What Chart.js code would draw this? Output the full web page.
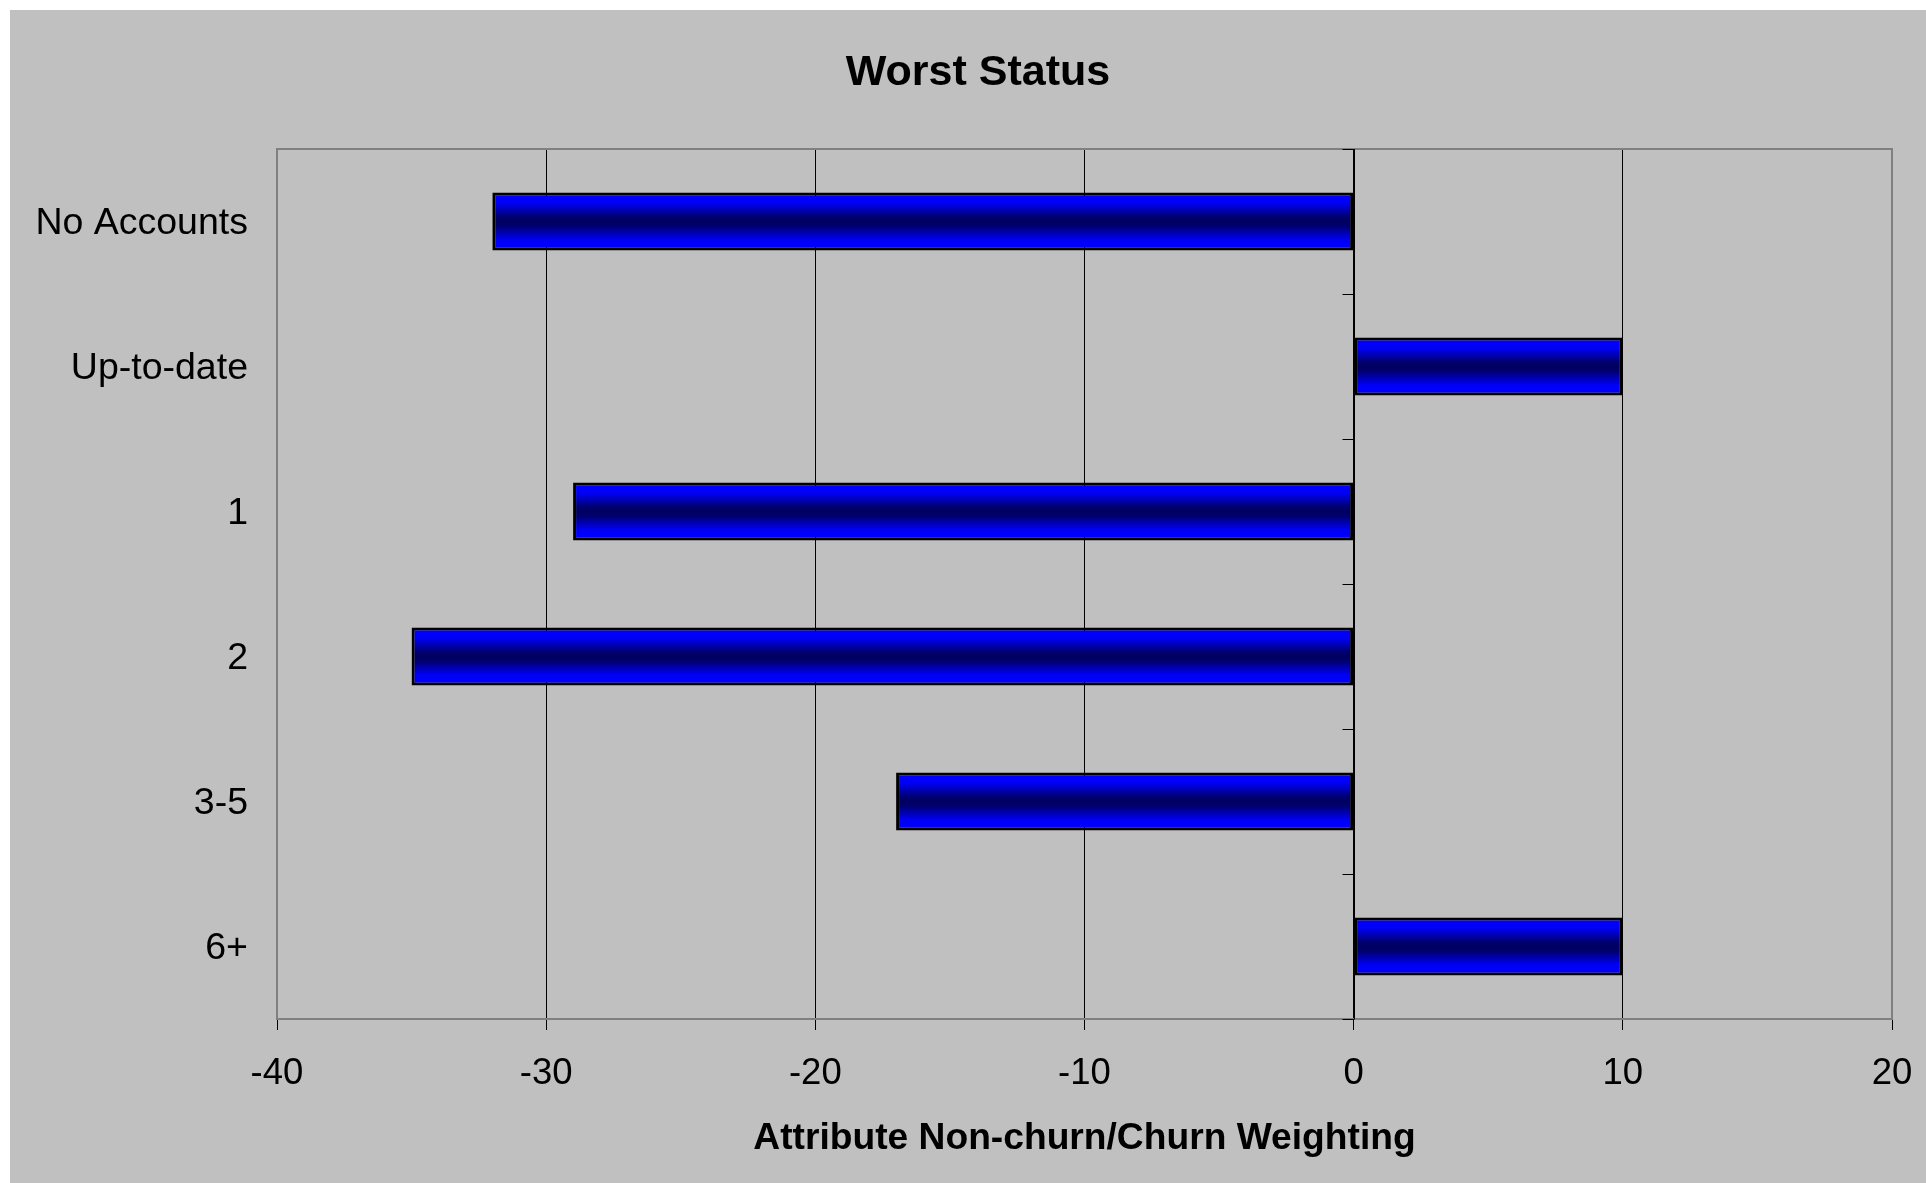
<!DOCTYPE html>
<html>
<head>
<meta charset="utf-8">
<title>Worst Status</title>
<script src="https://cdn.jsdelivr.net/npm/chart.js@4/dist/chart.umd.min.js"></script>
<style>
  html, body { margin: 0; padding: 0; background: #ffffff; }
  #wrap { width: 1926px; height: 1183px; }
</style>
</head>
<body>
<div id="wrap"><canvas id="chart" width="1926" height="1183"></canvas></div>
<script>
// Worst delinquency status categories and their non-churn/churn weighting
const categories = ['No Accounts', 'Up-to-date', '1', '2', '3-5', '6+'];
const weights = [-32, 10, -29, -35, -17, 10];
const axisRange = [-40, 20];
const axisStep = 10;

const FONT = "'Liberation Sans', Arial, Helvetica, sans-serif";

// Grey chart background, framed plot area and the short ticks on the zero axis
const chartDecor = {
  id: 'chartDecor',
  beforeDraw(chart) {
    const ctx = chart.ctx;
    ctx.save();
    ctx.fillStyle = '#c0c0c0';
    ctx.fillRect(10, 10, chart.width - 10, chart.height - 10);
    ctx.restore();
  },
  beforeDatasetsDraw(chart) {
    const { ctx, chartArea: a, scales: { x, y } } = chart;
    ctx.save();
    ctx.strokeStyle = '#808080';
    ctx.lineWidth = 2;
    ctx.strokeRect(a.left, a.top, a.right - a.left, a.bottom - a.top);
    // category tick marks at the value-axis zero crossing
    const x0 = Math.round(x.getPixelForValue(0)) + 0.5;
    const band = y.getPixelForValue(1) - y.getPixelForValue(0);
    ctx.strokeStyle = '#000000';
    ctx.lineWidth = 1;
    ctx.beginPath();
    ctx.moveTo(x0, a.top);
    ctx.lineTo(x0, a.bottom);
    for (let i = 0; i <= categories.length; i++) {
      const yy = Math.round(y.getPixelForValue(0) - band / 2 + i * band) + 0.5;
      ctx.moveTo(x0 - 12, yy);
      ctx.lineTo(x0, yy);
    }
    ctx.stroke();
    ctx.restore();
  }
};

// Vertical blue–navy–blue shading for each bar
function barShade(context) {
  const chart = context.chart;
  if (!chart.chartArea || !chart.scales.y) return '#0000ff';
  const y = chart.scales.y;
  const band = y.getPixelForValue(1) - y.getPixelForValue(0);
  const yc = y.getPixelForValue(context.dataIndex);
  const half = band * 0.2;
  const g = chart.ctx.createLinearGradient(0, yc - half, 0, yc + half);
  g.addColorStop(0, '#0000ff');
  g.addColorStop(0.18, '#0000f8');
  g.addColorStop(0.42, '#000070');
  g.addColorStop(0.5, '#000060');
  g.addColorStop(0.58, '#000070');
  g.addColorStop(0.82, '#0000f8');
  g.addColorStop(1, '#0000ff');
  return g;
}

new Chart(document.getElementById('chart'), {
  type: 'bar',
  data: {
    labels: categories,
    datasets: [{
      data: weights,
      backgroundColor: barShade,
      borderColor: '#000000',
      borderWidth: 3,
      borderSkipped: false,
      barPercentage: 0.4,
      categoryPercentage: 1.0
    }]
  },
  plugins: [chartDecor],
  options: {
    indexAxis: 'y',
    responsive: false,
    animation: false,
    layout: { padding: { left: 30, right: 0, top: 0, bottom: 0 } },
    plugins: {
      legend: { display: false },
      tooltip: { enabled: false },
      title: {
        display: true,
        text: 'Worst Status',
        color: '#000000',
        font: { family: FONT, size: 43, weight: 'bold', lineHeight: 1.2 },
        padding: { top: 47, bottom: 50.4 }
      }
    },
    scales: {
      x: {
        type: 'linear',
        min: axisRange[0],
        max: axisRange[1],
        border: { display: false },
        grid: {
          color: '#000000',
          lineWidth: 1,
          drawTicks: true,
          tickLength: 11,
          tickColor: '#000000'
        },
        ticks: {
          stepSize: axisStep,
          color: '#000000',
          padding: 22,
          maxRotation: 0,
          font: { family: FONT, size: 36.5, lineHeight: 1.2 }
        },
        title: {
          display: true,
          text: 'Attribute Non-churn/Churn Weighting',
          color: '#000000',
          font: { family: FONT, size: 37.2, weight: 'bold', lineHeight: 1.2 },
          padding: { top: 0, bottom: 22 }
        },
        afterFit(scale) {
          scale.height = 164;
          scale.paddingLeft = 0;
          scale.paddingRight = 34;
        }
      },
      y: {
        type: 'category',
        offset: true,
        border: { display: false },
        grid: { display: false, drawTicks: false },
        ticks: {
          color: '#000000',
          padding: 29,
          labelOffset: 2,
          font: { family: FONT, size: 37.5, lineHeight: 1.2 }
        },
        afterFit(scale) { scale.width = 247; }
      }
    }
  }
});
</script>
</body>
</html>
